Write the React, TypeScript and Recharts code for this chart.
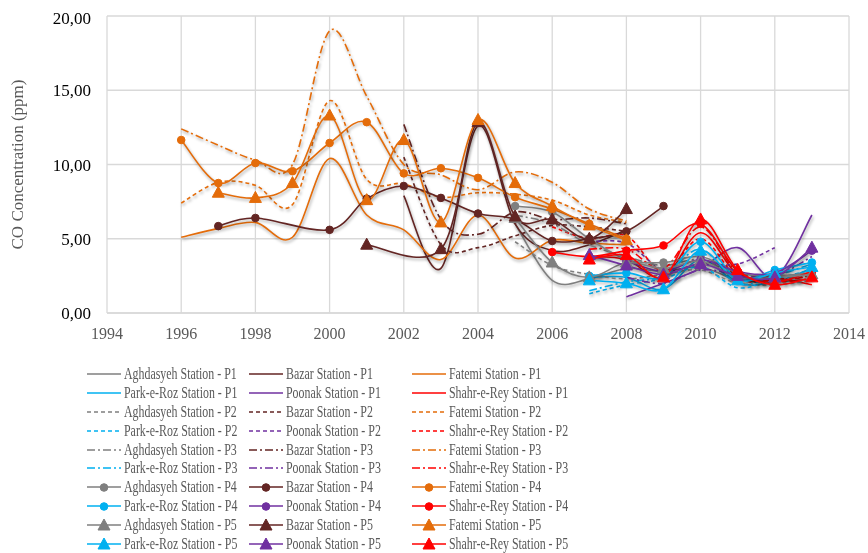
import React from "react"
import { LineChart, Line, XAxis, YAxis, CartesianGrid, Legend } from "recharts"

const _ = null

// years on the x axis (1996 .. 2013)
const years = [1996, 1997, 1998, 1999, 2000, 2001, 2002, 2003, 2004, 2005, 2006, 2007, 2008, 2009, 2010, 2011, 2012, 2013]
const xTicks = [1994, 1996, 1998, 2000, 2002, 2004, 2006, 2008, 2010, 2012, 2014]
const yTicks = [0, 5, 10, 15, 20]

const aghdasyehP1 = [_, _, _, _, _, _, _, _, _, 6.0, 2.2, 2.3, 3.0, 2.8, 3.1, 2.2, 2.1, 2.3]
const aghdasyehP2 = [_, _, _, _, _, _, _, _, _, 4.8, 3.2, 2.6, 2.3, 2.6, 2.9, 2.0, 1.9, 2.2]
const aghdasyehP3 = [_, _, _, _, _, _, _, _, _, 6.6, 6.0, 4.6, 3.8, 3.2, 3.6, 2.5, 2.3, 2.5]
const aghdasyehP4 = [_, _, _, _, _, _, _, _, _, 7.2, 6.8, 5.0, 3.6, 3.4, 3.8, 2.7, 2.5, 2.7]
const aghdasyehP5 = [_, _, _, _, _, _, _, _, _, 6.4, 3.4, 2.4, 3.4, 3.0, 3.5, 2.4, 2.4, 2.6]

const bazarP1 = [_, _, _, _, _, _, 7.9, 3.0, 12.6, 6.0, 4.2, 4.6, 5.6, _, _, _, _, _]
const bazarP2 = [_, _, _, _, _, _, 10.5, 4.6, 4.4, 5.2, 5.9, 5.8, 5.5, _, _, _, _, _]
const bazarP3 = [_, _, _, _, _, _, 12.7, 6.3, 5.3, 6.8, 6.3, 6.4, 6.0, _, _, _, _, _]
const bazarP4 = [_, 5.85, 6.4, _, 5.6, 7.7, 8.55, 7.75, 6.7, 6.3, 4.85, 5.0, 5.5, 7.2, _, _, _, _]
const bazarP5 = [_, _, _, _, _, 4.6, _, 4.3, 12.85, 6.5, 6.3, 5.0, 7.0, _, _, _, _, _]

const fatemiP1 = [5.1, 5.7, 6.1, 5.1, 10.4, 6.6, 5.6, 3.6, 6.6, 3.7, 4.9, 4.7, 4.6, _, _, _, _, _]
const fatemiP2 = [7.4, 8.8, 8.6, 7.3, 14.3, 9.0, 8.7, 7.8, 8.1, 8.0, 7.6, 6.6, 6.1, _, _, _, _, _]
const fatemiP3 = [12.4, 11.3, 10.3, 10.0, 19.0, 14.6, 10.0, 9.3, 8.3, 9.5, 8.8, 7.0, 6.2, _, _, _, _, _]
const fatemiP4 = [11.65, 8.75, 10.1, 9.55, 11.45, 12.85, 9.4, 9.75, 9.1, 7.8, 7.0, 6.0, 5.0, _, _, _, _, _]
const fatemiP5 = [_, 8.1, 7.75, 8.75, 13.3, 7.6, 11.65, 6.1, 13.0, 8.75, 7.2, 5.9, 4.9, _, _, _, _, _]

const parkP1 = [_, _, _, _, _, _, _, _, _, _, _, 2.4, 2.4, 1.6, 3.6, 2.0, 2.1, 3.0]
const parkP2 = [_, _, _, _, _, _, _, _, _, _, _, 1.3, 1.9, 2.3, 3.1, 1.7, 2.3, 2.9]
const parkP3 = [_, _, _, _, _, _, _, _, _, _, _, 1.5, 2.1, 2.5, 4.3, 2.0, 2.5, 3.3]
const parkP4 = [_, _, _, _, _, _, _, _, _, _, _, 2.5, 2.7, 2.4, 4.8, 2.3, 2.9, 3.4]
const parkP5 = [_, _, _, _, _, _, _, _, _, _, _, 2.2, 2.0, 1.6, 4.2, 2.2, 2.7, 3.1]

const poonakP1 = [_, _, _, _, _, _, _, _, _, _, _, _, 1.1, 2.0, 3.0, 4.4, 2.4, 6.6]
const poonakP2 = [_, _, _, _, _, _, _, _, _, _, _, 4.8, 4.7, 2.9, 3.3, 3.3, 4.4, _]
const poonakP3 = [_, _, _, _, _, _, _, _, _, _, _, _, 2.4, 2.0, 2.9, 2.6, 2.5, 3.8]
const poonakP4 = [_, _, _, _, _, _, _, _, _, _, _, _, 3.5, 2.8, 3.6, 2.8, 2.7, 4.2]
const poonakP5 = [_, _, _, _, _, _, _, _, _, _, _, 3.9, 3.2, 2.6, 3.3, 2.5, 2.4, 4.4]

const shahrP1 = [_, _, _, _, _, _, _, _, _, _, _, 3.8, 3.6, 2.4, 5.4, 2.6, 2.4, 1.9]
const shahrP2 = [_, _, _, _, _, _, _, _, _, _, 5.8, 5.0, 5.2, 2.8, 5.0, 2.4, 2.1, 2.3]
const shahrP3 = [_, _, _, _, _, _, _, _, _, _, _, 4.3, 4.3, 3.0, 5.8, 2.7, 2.2, 2.5]
const shahrP4 = [_, _, _, _, _, _, _, _, _, _, 4.1, 3.8, 4.2, 4.55, 6.0, 2.8, 2.1, 2.8]
const shahrP5 = [_, _, _, _, _, _, _, _, _, _, _, 3.6, 3.9, 2.4, 6.3, 2.9, 1.9, 2.4]

const GRAY = "#7F7F7F"
const BROWN = "#632523"
const ORANGE = "#E46C0A"
const CYAN = "#00B0F0"
const PURPLE = "#7030A0"
const RED = "#FF0000"

type Series = { name: string; color: string; p: number; values: (number | null)[] }

// legend order (row by row, three columns)
const series: Series[] = [
  { name: "Aghdasyeh Station - P1", color: GRAY, p: 1, values: aghdasyehP1 },
  { name: "Bazar Station - P1", color: BROWN, p: 1, values: bazarP1 },
  { name: "Fatemi Station - P1", color: ORANGE, p: 1, values: fatemiP1 },
  { name: "Park-e-Roz Station - P1", color: CYAN, p: 1, values: parkP1 },
  { name: "Poonak Station - P1", color: PURPLE, p: 1, values: poonakP1 },
  { name: "Shahr-e-Rey Station - P1", color: RED, p: 1, values: shahrP1 },
  { name: "Aghdasyeh Station - P2", color: GRAY, p: 2, values: aghdasyehP2 },
  { name: "Bazar Station - P2", color: BROWN, p: 2, values: bazarP2 },
  { name: "Fatemi Station - P2", color: ORANGE, p: 2, values: fatemiP2 },
  { name: "Park-e-Roz Station - P2", color: CYAN, p: 2, values: parkP2 },
  { name: "Poonak Station - P2", color: PURPLE, p: 2, values: poonakP2 },
  { name: "Shahr-e-Rey Station - P2", color: RED, p: 2, values: shahrP2 },
  { name: "Aghdasyeh Station - P3", color: GRAY, p: 3, values: aghdasyehP3 },
  { name: "Bazar Station - P3", color: BROWN, p: 3, values: bazarP3 },
  { name: "Fatemi Station - P3", color: ORANGE, p: 3, values: fatemiP3 },
  { name: "Park-e-Roz Station - P3", color: CYAN, p: 3, values: parkP3 },
  { name: "Poonak Station - P3", color: PURPLE, p: 3, values: poonakP3 },
  { name: "Shahr-e-Rey Station - P3", color: RED, p: 3, values: shahrP3 },
  { name: "Aghdasyeh Station - P4", color: GRAY, p: 4, values: aghdasyehP4 },
  { name: "Bazar Station - P4", color: BROWN, p: 4, values: bazarP4 },
  { name: "Fatemi Station - P4", color: ORANGE, p: 4, values: fatemiP4 },
  { name: "Park-e-Roz Station - P4", color: CYAN, p: 4, values: parkP4 },
  { name: "Poonak Station - P4", color: PURPLE, p: 4, values: poonakP4 },
  { name: "Shahr-e-Rey Station - P4", color: RED, p: 4, values: shahrP4 },
  { name: "Aghdasyeh Station - P5", color: GRAY, p: 5, values: aghdasyehP5 },
  { name: "Bazar Station - P5", color: BROWN, p: 5, values: bazarP5 },
  { name: "Fatemi Station - P5", color: ORANGE, p: 5, values: fatemiP5 },
  { name: "Park-e-Roz Station - P5", color: CYAN, p: 5, values: parkP5 },
  { name: "Poonak Station - P5", color: PURPLE, p: 5, values: poonakP5 },
  { name: "Shahr-e-Rey Station - P5", color: RED, p: 5, values: shahrP5 },
]

const data = years.map((year, i) => {
  const row: Record<string, number | null> = { year }
  series.forEach((s, k) => {
    row["s" + k] = s.values[i]
  })
  return row
})

const dashFor = (p: number) => (p === 2 ? "4 3" : p === 3 ? "8 3 2 3" : undefined)

// Excel style smoothing: Catmull-Rom through every point
const excelSmooth = (context: any) => {
  let pts: number[][] = []
  return {
    areaStart() {},
    areaEnd() {},
    lineStart() {
      pts = []
    },
    point(x: number, y: number) {
      pts.push([+x, +y])
    },
    lineEnd() {
      if (!pts.length) return
      context.moveTo(pts[0][0], pts[0][1])
      for (let i = 0; i < pts.length - 1; i++) {
        const p0 = pts[Math.max(i - 1, 0)]
        const p1 = pts[i]
        const p2 = pts[i + 1]
        const p3 = pts[Math.min(i + 2, pts.length - 1)]
        context.bezierCurveTo(
          p1[0] + (p2[0] - p0[0]) / 6,
          p1[1] + (p2[1] - p0[1]) / 6,
          p2[0] - (p3[0] - p1[0]) / 6,
          p2[1] - (p3[1] - p1[1]) / 6,
          p2[0],
          p2[1]
        )
      }
    },
  }
}

const markerShape = (p: number, cx: number, cy: number, color: string, key?: any) => {
  if (p === 4) return <circle key={key} cx={cx} cy={cy} r={3.8} fill={color} stroke={color} />
  return (
    <path
      key={key}
      d={`M${cx},${cy - 6.5}L${cx + 6},${cy + 4.5}L${cx - 6},${cy + 4.5}Z`}
      fill={color}
      stroke={color}
    />
  )
}

const makeDot = (s: Series) => (props: any) => {
  const { cx, cy, index } = props
  if (cx == null || cy == null || props.value == null) return <g key={index} />
  return markerShape(s.p, cx, cy, s.color, index)
}

const renderLegend = () => (
  <div
    style={{
      display: "grid",
      gridTemplateColumns: "162px 163px 240px",
      paddingLeft: 79,
      paddingTop: 29,
      height: 217,
      boxSizing: "border-box",
    }}
  >
    {series.map((s) => (
      <div key={s.name} style={{ display: "flex", alignItems: "center", height: 18.8 }}>
        <svg width={34} height={14} style={{ flex: "none" }}>
          <line x1={0} y1={7} x2={34} y2={7} stroke={s.color} strokeWidth={1.6} strokeDasharray={dashFor(s.p)} />
          {s.p >= 4 && markerShape(s.p, 17, 7.5, s.color)}
        </svg>
        <span
          style={{
            marginLeft: 3,
            fontSize: 17,
            color: "#595959",
            whiteSpace: "nowrap",
            display: "inline-block",
            transform: "scaleX(0.7)",
            transformOrigin: "left center",
          }}
        >
          {s.name}
        </span>
      </div>
    ))}
  </div>
)

const fmt = (v: number) => v.toFixed(2).replace(".", ",")

export default function App() {
  return (
    <div
      style={{
        position: "fixed",
        top: 8,
        left: 8,
        fontFamily: '"Liberation Serif", "Times New Roman", serif',
      }}
    >
      <style>{`.recharts-line { filter: drop-shadow(1.5px 2px 1.5px rgba(0,0,0,0.35)); }`}</style>
      <LineChart
        width={860}
        height={545}
        data={data}
        margin={{ top: 8, right: 19, left: 0, bottom: 0 }}
        style={{ fontFamily: '"Liberation Serif", "Times New Roman", serif' }}
      >
        <CartesianGrid stroke="#D9D9D9" strokeWidth={1.3} />
        <XAxis
          dataKey="year"
          type="number"
          domain={[1994, 2014]}
          ticks={xTicks}
          allowDataOverflow
          tickLine={false}
          axisLine={{ stroke: "#D9D9D9", strokeWidth: 1.3 }}
          tick={{ fill: "#595959", fontSize: 16 }}
          tickMargin={9}
          height={23}
        />
        <YAxis
          type="number"
          domain={[0, 20]}
          ticks={yTicks}
          tickFormatter={fmt}
          tickLine={false}
          axisLine={false}
          tick={{ fill: "#000000", fontSize: 17 }}
          tickMargin={10}
          width={99}
          label={{
            value: "CO Concentration (ppm)",
            angle: -90,
            position: "insideLeft",
            offset: 9,
            style: { textAnchor: "middle", fill: "#595959", fontSize: 17 },
          }}
        />
        <Legend verticalAlign="bottom" height={217} content={renderLegend} />
        {series.map((s, k) => (
          <Line
            key={s.name}
            dataKey={"s" + k}
            name={s.name}
            type={excelSmooth as any}
            stroke={s.color}
            strokeWidth={1.6}
            strokeDasharray={dashFor(s.p)}
            dot={s.p >= 4 ? makeDot(s) : false}
            activeDot={false}
            connectNulls
            isAnimationActive={false}
          />
        ))}
      </LineChart>
    </div>
  )
}
